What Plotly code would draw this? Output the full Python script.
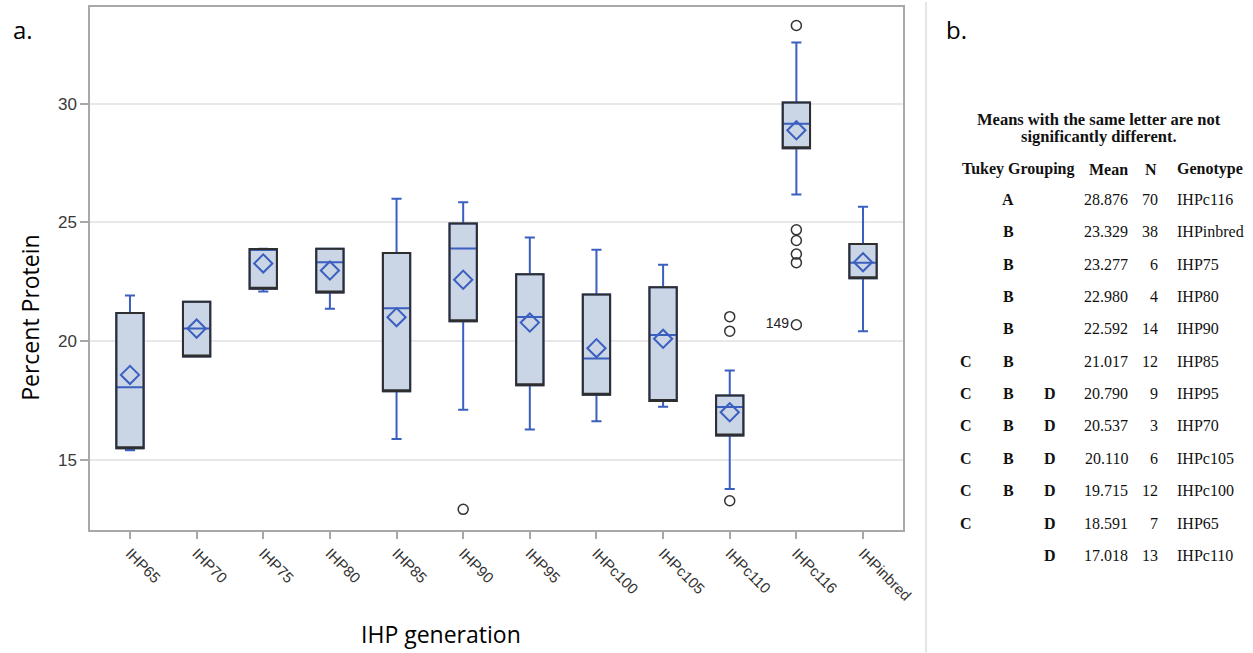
import plotly.graph_objects as go

# ---- data -------------------------------------------------------------
genotypes = ["IHP65", "IHP70", "IHP75", "IHP80", "IHP85", "IHP90", "IHP95",
             "IHPc100", "IHPc105", "IHPc110", "IHPc116", "IHPinbred"]

lower_whisker = [15.42, 19.37, 22.10, 21.37, 15.90, 17.13, 16.30, 16.64, 17.25, 13.79, 26.18, 20.43]
q1 = [15.51, 19.37, 22.21, 22.06, 17.90, 20.85, 18.16, 17.76, 17.49, 16.04, 28.12, 22.66]
median = [18.07, 20.54, 23.85, 23.33, 21.39, 23.91, 21.03, 19.28, 20.27, 17.24, 29.15, 23.31]
q3 = [21.19, 21.67, 23.88, 23.90, 23.72, 24.96, 22.82, 21.97, 22.28, 17.72, 30.04, 24.10]
upper_whisker = [21.93, 21.67, 23.90, 23.90, 26.00, 25.85, 24.37, 23.85, 23.22, 18.78, 32.57, 25.66]

outlier_genotype = ["IHP90", "IHPc110", "IHPc110", "IHPc110",
                    "IHPc116", "IHPc116", "IHPc116", "IHPc116", "IHPc116", "IHPc116"]
outlier_value = [12.94, 21.04, 20.43, 13.30, 33.28, 24.69, 24.24, 23.67, 23.31, 20.70]
outlier_label = ["", "", "", "", "", "", "", "", "", "149"]

# Tukey grouping table
tukey_c = ["", "", "", "", "", "C", "C", "C", "C", "C", "C", ""]
tukey_ab = ["A", "B", "B", "B", "B", "B", "B", "B", "B", "B", "", ""]
tukey_d = ["", "", "", "", "", "", "D", "D", "D", "D", "D", "D"]
table_mean = [28.876, 23.329, 23.277, 22.980, 22.592, 21.017, 20.790, 20.537,
              20.110, 19.715, 18.591, 17.018]
table_n = [70, 38, 6, 4, 14, 12, 9, 3, 6, 12, 7, 13]
table_genotype = ["IHPc116", "IHPinbred", "IHP75", "IHP80", "IHP90", "IHP85", "IHP95",
                  "IHP70", "IHPc105", "IHPc100", "IHP65", "IHPc110"]

y_ticks = [15, 20, 25, 30]

# ---- styling ----------------------------------------------------------
W, H = 1253, 653
PL, PR, PT, PB = 90, 903, 5, 530   # plot area in pixels
BLUE = "#3b5fbf"
FILL = "#cad5e6"
EDGE = "#2e2e2e"
SANS = "Liberation Sans, Arial, sans-serif"
HUMANIST = "Open Sans, Noto Sans, sans-serif"
SERIF = "Liberation Serif, Times New Roman, serif"


def px_x(px):
    return (px - PL) / (PR - PL)


def px_y(py):
    return (PB - py) / (PB - PT)


def label(px, py, text, font, xanchor="center", **kw):
    return dict(x=px_x(px), y=px_y(py), xref="paper", yref="paper", text=text,
                showarrow=False, xanchor=xanchor, yanchor="middle", font=font, **kw)


mean_by_genotype = dict(zip(table_genotype, table_mean))
box_means = [mean_by_genotype[g] for g in genotypes]

fig = go.Figure()

# whiskers, median and fill
fig.add_trace(go.Box(
    x=genotypes, q1=q1, median=median, q3=q3,
    lowerfence=lower_whisker, upperfence=upper_whisker,
    boxpoints=False, width=0.41, whiskerwidth=0.37,
    fillcolor=FILL, line=dict(color=BLUE, width=2),
    hoverinfo="skip", showlegend=False,
))

# dark box outline drawn on top
fig.add_trace(go.Box(
    x=genotypes, q1=q1, median=q1, q3=q3,
    lowerfence=q1, upperfence=q3,
    boxpoints=False, width=0.41, whiskerwidth=0,
    fillcolor="rgba(0,0,0,0)", line=dict(color=EDGE, width=2),
    hoverinfo="skip", showlegend=False,
))

# means
fig.add_trace(go.Scatter(
    x=genotypes, y=box_means, mode="markers",
    marker=dict(symbol="diamond-open", size=14, color=BLUE, line=dict(width=2, color=BLUE)),
    showlegend=False,
))

# outliers
fig.add_trace(go.Scatter(
    x=outlier_genotype, y=outlier_value, mode="markers+text",
    text=outlier_label, textposition="middle left",
    textfont=dict(family=SANS, size=14, color="#222"),
    marker=dict(symbol="circle-open", size=10, color="#333", line=dict(width=1.5, color="#333")),
    showlegend=False,
))

fig.update_xaxes(
    type="category", categoryorder="array", categoryarray=genotypes,
    range=[-0.6, len(genotypes) - 0.4],
    showline=True, linecolor="#a8a8a8", linewidth=1.5, mirror=True,
    ticks="outside", ticklen=7, tickcolor="#a8a8a8", tickwidth=1.5,
    tickangle=45, tickfont=dict(family=SANS, size=15, color="#333"),
    showgrid=False, zeroline=False,
)
fig.update_yaxes(
    range=[12.07, 34.06], tickvals=y_ticks,
    showline=True, linecolor="#a8a8a8", linewidth=1.5, mirror=True,
    ticks="outside", ticklen=8, tickcolor="#a8a8a8", tickwidth=1.5,
    tickfont=dict(family=SANS, size=17, color="#3a3a3a"),
    showgrid=True, gridcolor="#e8e8e8", gridwidth=1.5, zeroline=False,
)

big = dict(family=HUMANIST, size=24, color="#000")
title_font = dict(family=HUMANIST, size=23, color="#000")
ann = [
    label(11, 28, "a.", big, xanchor="left"),
    label(944, 28, "b.", big, xanchor="left"),
    label(441, 634, "IHP generation", title_font),
    label(30, 317, "Percent Protein", title_font, textangle=-90),
]

# table
tfont = dict(family=SERIF, size=16, color="#111")
hfont = dict(family=SERIF, size=16.5, color="#111")
ann.append(label(1099, 118, "<b>Means with the same letter are not</b>", hfont))
ann.append(label(1099, 135, "<b>significantly different.</b>", hfont))
for txt, xp, anchor in [("Tukey Grouping", 960, "left"), ("Mean", 1130, "right"),
                        ("N", 1159, "right"), ("Genotype", 1175, "left")]:
    ann.append(label(xp, 168, f"<b>{txt}</b>", tfont, xanchor=anchor))

for i in range(len(table_genotype)):
    yy = 198 + 32.5 * i
    for txt, xp in [(tukey_c[i], 966), (tukey_ab[i], 1008), (tukey_d[i], 1050)]:
        if txt:
            ann.append(label(xp, yy, f"<b>{txt}</b>", tfont))
    ann.append(label(1130, yy, f"{table_mean[i]:.3f}", tfont, xanchor="right"))
    ann.append(label(1160, yy, str(table_n[i]), tfont, xanchor="right"))
    ann.append(label(1175, yy, table_genotype[i], tfont, xanchor="left"))

fig.update_layout(
    width=W, height=H,
    margin=dict(l=PL, r=W - PR, t=PT, b=H - PB),
    paper_bgcolor="white", plot_bgcolor="white",
    boxmode="overlay", showlegend=False,
    annotations=ann,
    shapes=[dict(type="line", xref="paper", yref="paper",
                 x0=px_x(926), x1=px_x(926), y0=px_y(0), y1=px_y(H),
                 line=dict(color="#dddddd", width=1.5))],
)

fig.write_html("out.html")
